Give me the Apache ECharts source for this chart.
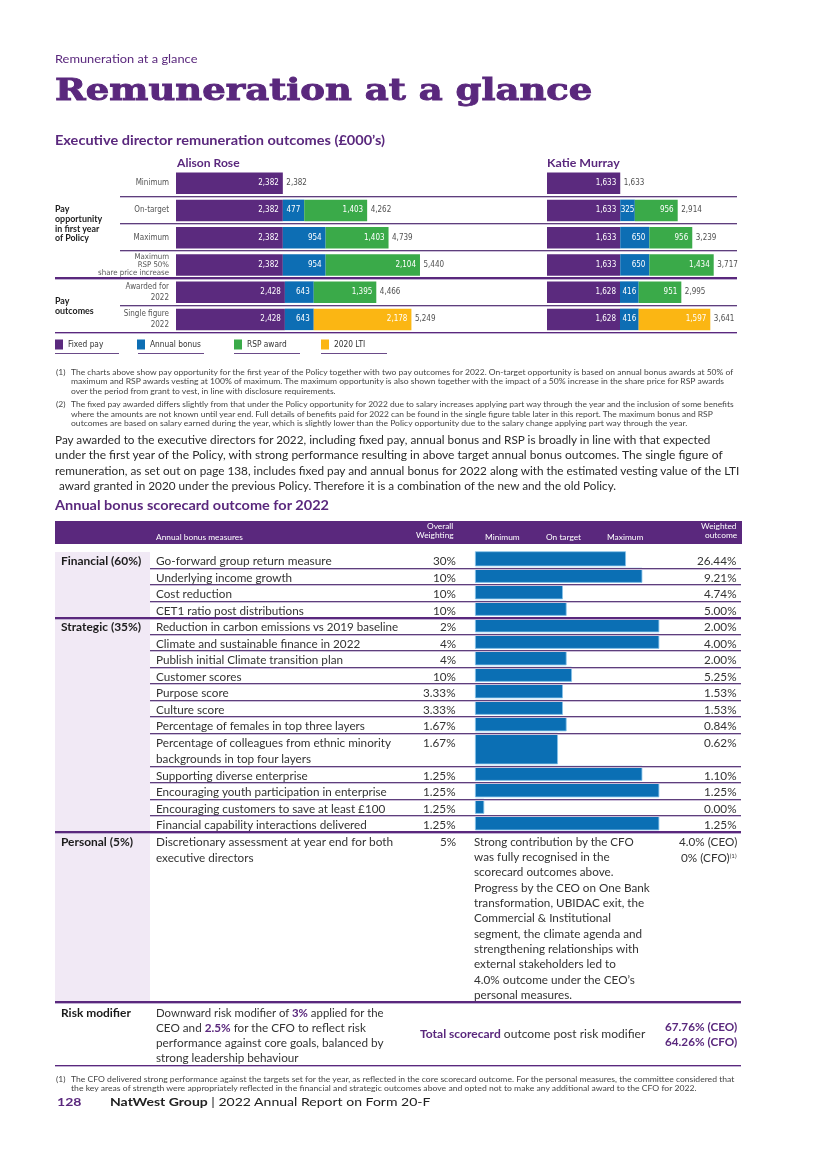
<!DOCTYPE html>
<html><head><meta charset="utf-8">
<title>Remuneration at a glance</title>
<script src="https://cdn.jsdelivr.net/npm/echarts@6.0.0/dist/echarts.min.js"></script>
<style>
html,body{margin:0;padding:0;background:#fff;}
#page{position:relative;width:825px;height:1168px;overflow:hidden;font-family:Lato,'Noto Sans',sans-serif;color:#333;}
#chart{position:absolute;left:0;top:0;width:825px;height:1168px;z-index:1;}
.t{position:absolute;left:0;white-space:nowrap;transform-origin:0 50%;z-index:3;}
.ln{position:absolute;z-index:2;}
.bg{position:absolute;z-index:0;}
</style></head>
<body><div id="page"><div id="chart"></div></div>
<script>
// ---------------- DATA ----------------
const directorCategories = ['Minimum','On-target','Maximum','Maximum\nRSP 50%\nshare price increase','Awarded for\n2022','Single figure\n2022'];
const componentNames = ['Fixed pay','Annual bonus','RSP award','2020 LTI'];
const alisonFixedPay    = [2382,2382,2382,2382,2428,2428];
const alisonAnnualBonus = [0,477,954,954,643,643];
const alisonRspAward    = [0,1403,1403,2104,1395,0];
const alisonLti2020     = [0,0,0,0,0,2178];
const katieFixedPay     = [1633,1633,1633,1633,1628,1628];
const katieAnnualBonus  = [0,325,650,650,416,416];
const katieRspAward     = [0,956,956,1434,951,0];
const katieLti2020      = [0,0,0,0,0,1597];

const scorecardMeasures = [
 'Go-forward group return measure','Underlying income growth','Cost reduction','CET1 ratio post distributions',
 'Reduction in carbon emissions vs 2019 baseline','Climate and sustainable finance in 2022','Publish initial Climate transition plan',
 'Customer scores','Purpose score','Culture score','Percentage of females in top three layers',
 'Percentage of colleagues from ethnic minority\nbackgrounds in top four layers','Supporting diverse enterprise',
 'Encouraging youth participation in enterprise','Encouraging customers to save at least £100','Financial capability interactions delivered'];
const scorecardWeightings = ['30%','10%','10%','10%','2%','4%','4%','10%','3.33%','3.33%','1.67%','1.67%','1.25%','1.25%','1.25%','1.25%'];
// bar length, % of the minimum-to-maximum performance scale
const scorecardPerformance = [81.9,90.8,47.7,49.7,100,100,49.7,52.6,47.7,47.7,49.7,45.0,90.8,100,5.0,100];
const scorecardOutcomes = ['26.44%','9.21%','4.74%','5.00%','2.00%','4.00%','2.00%','5.25%','1.53%','1.53%','0.84%','0.62%','1.10%','1.25%','0.00%','1.25%'];
const scorecardGroups = [['Financial (60%)',4],['Strategic (35%)',12]];
const scaleLabels = ['Minimum','On target','Maximum'];

// ---------------- LAYOUT HELPERS ----------------
const page = document.getElementById('page');
const P = '#5a287d';
const FONT = "Lato,'Noto Sans',sans-serif";
const NFONT = "'DejaVu Sans Condensed','DejaVu Sans',sans-serif";
function T(html, x, y, o){
  o = o || {};
  const d = document.createElement('div');
  d.className = 't';
  d.innerHTML = html;
  const fs = o.fs || 11.5, lh = o.lh || fs*1.3;
  d.style.fontSize = fs+'px';
  d.style.lineHeight = lh+'px';
  d.style.top = (y - lh/2)+'px';
  if (o.bold) d.style.fontWeight = '700';
  d.style.color = o.color || '#333';
  if (o.ff) d.style.fontFamily = o.ff;
  if (o.stroke) d.style.webkitTextStroke = o.stroke;
  d.dataset.x = x; d.dataset.a = o.a || 'left';
  if (o.w) d.dataset.w = o.w;
  if (o.g) d.dataset.g = o.g;
  page.appendChild(d);
  return d;
}
function HL(x1, x2, y, h, color){
  const d = document.createElement('div');
  d.className = 'ln';
  d.style.left = x1+'px'; d.style.width = (x2-x1)+'px';
  d.style.top = y+'px'; d.style.height = h+'px'; d.style.background = color;
  page.appendChild(d);
}
function thinLine(x1,x2,y){ HL(x1,x2,y-1,1,'#5e3f7c'); HL(x1,x2,y,1,'#cbbdd8'); }
function thickLine(x1,x2,y){ HL(x1,x2,y-1.5,1.8,'#5a287d'); HL(x1,x2,y+0.3,1,'#c0afd2'); }
function BG(x1,x2,y1,y2,color){
  const d = document.createElement('div');
  d.className = 'bg';
  d.style.left=x1+'px'; d.style.width=(x2-x1)+'px'; d.style.top=y1+'px'; d.style.height=(y2-y1)+'px'; d.style.background=color;
  page.appendChild(d);
}

// ---------------- PAGE TEXT ----------------
T('Remuneration at a glance',55,60,{fs:10.5,color:P,w:143});
T('Remuneration at a glance',55,91,{fs:29,bold:1,color:P,ff:"'DejaVu Serif',serif",w:537,stroke:'0.9px '+P});
T('Executive director remuneration outcomes (£000’s)',55,140,{fs:13,bold:1,color:P,w:330});
T('Alison Rose',176.5,162.7,{fs:11,bold:1,color:P,w:62.7});
T('Katie Murray',547,162.7,{fs:11,bold:1,color:P,w:73.3});
[['Pay',210],['opportunity',219.7],['in first year',229.3],['of Policy',239],['Pay',301.7],['outcomes',312]].forEach(([s,y])=>T(s,55,y,{fs:8.5,bold:1,color:'#1b1b1b',g:'grp',w: s==='opportunity'?47:0}));

// separators of the director chart
const DIR_TOP = 169.5, DIR_H = 163.5, BAND = DIR_H/directorCategories.length;
for (let k=1;k<=directorCategories.length;k++){
  const y = DIR_TOP + BAND*k;
  if (k===4 || k===6) thickLine(55,737,y); else thinLine(120,737,y);
}
// legend underlines
[[55,119],[137.5,203.5],[234,300],[321,387]].forEach(([a,b])=>HL(a,b,353,1.3,'#6a4a88'));

// footnotes
const fnY = [372.7,382,391.7,405,414.7,424.3];
T('(1)',56,fnY[0],{fs:7.6,color:'#444',g:'fn'});
T('The charts above show pay opportunity for the first year of the Policy together with two pay outcomes for 2022. On-target opportunity is based on annual bonus awards at 50% of',71,fnY[0],{fs:7.6,color:'#444',g:'fn',w:662.5});
T('maximum and RSP awards vesting at 100% of maximum. The maximum opportunity is also shown together with the impact of a 50% increase in the share price for RSP awards',71,fnY[1],{fs:7.6,color:'#444',g:'fn',w:652.5});
T('over the period from grant to vest, in line with disclosure requirements.',71,fnY[2],{fs:7.6,color:'#444',g:'fn'});
T('(2)',56,fnY[3],{fs:7.6,color:'#444',g:'fn'});
T('The fixed pay awarded differs slightly from that under the Policy opportunity for 2022 due to salary increases applying part way through the year and the inclusion of some benefits',71,fnY[3],{fs:7.6,color:'#444',g:'fn',w:663});
T('where the amounts are not known until year end. Full details of benefits paid for 2022 can be found in the single figure table later in this report. The maximum bonus and RSP',71,fnY[4],{fs:7.6,color:'#444',g:'fn',w:642});
T('outcomes are based on salary earned during the year, which is slightly lower than the Policy opportunity due to the salary change applying part way through the year.',71,fnY[5],{fs:7.6,color:'#444',g:'fn',w:616});

// paragraph
T('Pay awarded to the executive directors for 2022, including fixed pay, annual bonus and RSP is broadly in line with that expected',55,439.5,{fs:12,color:'#2b2b2b',g:'para',w:655});
T('under the first year of the Policy, with strong performance resulting in above target annual bonus outcomes. The single figure of',55,455,{fs:12,color:'#2b2b2b',g:'para',w:668});
T('remuneration, as set out on page 138, includes fixed pay and annual bonus for 2022 along with the estimated vesting value of the LTI',55,470.5,{fs:12,color:'#2b2b2b',g:'para',w:684});
T('award granted in 2020 under the previous Policy. Therefore it is a combination of the new and the old Policy.',58.5,486,{fs:12,color:'#2b2b2b',g:'para',w:557.5});
T('Annual bonus scorecard outcome for 2022',55,505,{fs:13,bold:1,color:P,w:273.5});

// table header
BG(55,742,520.7,544.5,P);
T('Annual bonus measures',156,537.5,{fs:7.5,color:'#fff',g:'hdr',w:86.7});
T('Overall',454,527.3,{fs:7.5,color:'#fff',g:'hdr',a:'right'});
T('Weighting',454,535.5,{fs:7.5,color:'#fff',g:'hdr',a:'right'});
const SC_LEFT = 475, SC_W = 184.3, SC_TOP = 552.3, SC_PITCH = 16.5;
const scaleLabelPos = [14.6,48.3,81.4];
scaleLabels.forEach((s,i)=>T(s,SC_LEFT+SC_W*scaleLabelPos[i]/100,537.5,{fs:7.5,color:'#fff',g:'hdr',a:'center'}));
T('Weighted',737,527.3,{fs:7.5,color:'#fff',g:'hdr',a:'right'});
T('outcome',737,536,{fs:7.5,color:'#fff',g:'hdr',a:'right'});

// table body
BG(55,150,552.3,1002.7,'#f1e9f5');
const rowInfo = [];
const measureWidths = {0:176,4:242,11:235,13:230.7};
let slot = 0;
scorecardMeasures.forEach((m,i)=>{
  const lines = m.split('\n');
  const yTop = SC_TOP + slot*SC_PITCH;
  lines.forEach((l,j)=>T(l,156,yTop+(j*SC_PITCH)+9.2,{fs:11.5,color:'#333',g:'tbl',w:(j===0 && measureWidths[i]) ? measureWidths[i] : 0}));
  T(scorecardWeightings[i],456,yTop+9.2,{fs:11.5,color:'#333',g:'tbl',a:'right'});
  T(scorecardOutcomes[i],737,yTop+9.2,{fs:11.5,color:'#333',g:'tbl',a:'right'});
  rowInfo.push({slot:slot,n:lines.length});
  slot += lines.length;
});
let rowIdx = 0;
scorecardGroups.forEach(([label,count])=>{
  T(label,60.5,SC_TOP+rowInfo[rowIdx].slot*SC_PITCH+9.2,{fs:11.5,bold:1,color:'#1b1b1b',g:'cat',w: label.startsWith('Fin')?80:0});
  rowIdx += count;
});
let acc = 0; const groupEnds = []; scorecardGroups.forEach(([l,c])=>{acc+=c; groupEnds.push(acc);});
rowInfo.forEach((r,i)=>{
  const y = SC_TOP + (r.slot+r.n)*SC_PITCH;
  if (groupEnds.includes(i+1)) thickLine(55,741,y); else thinLine(150,741,y);
});
// personal row
const PY = SC_TOP + slot*SC_PITCH;
T('Personal (5%)',60.5,PY+9.5,{fs:11.5,bold:1,color:'#1b1b1b',g:'cat'});
T('Discretionary assessment at year end for both',156,PY+9.5,{fs:11.5,color:'#333',g:'tbl',w:236.7});
T('executive directors',156,PY+25.5,{fs:11.5,color:'#333',g:'tbl'});
T('5%',456,PY+9.5,{fs:11.5,color:'#333',g:'tbl',a:'right'});
['Strong contribution by the CFO','was fully recognised in the','scorecard outcomes above.','Progress by the CEO on One Bank','transformation, UBIDAC exit, the','Commercial &amp; Institutional','segment, the climate agenda and','strengthening relationships with','external stakeholders led to','4.0% outcome under the CEO’s','personal measures.']
 .forEach((s,j)=>T(s,474,PY+9.5+j*15.3,{fs:11.5,color:'#333',g:'tbl',w:j===0?160:0}));
T('4.0% (CEO)',737,PY+9.5,{fs:11.5,color:'#333',g:'tbl',a:'right'});
T('0% (CFO)<span style="font-size:6px;position:relative;top:-4px">(1)</span>',737,PY+25.5,{fs:11.5,color:'#333',g:'tbl',a:'right'});
thickLine(55,741,1002.7);
// risk modifier row
const B = (s)=>'<b style="color:'+P+'">'+s+'</b>';
T('Risk modifier',60.5,1013.3,{fs:11.5,bold:1,color:'#1b1b1b',g:'cat'});
T('Downward risk modifier of '+B('3%')+' applied for the',156,1013.3,{fs:11.5,color:'#333',g:'tbl',w:228});
T('CEO and '+B('2.5%')+' for the CFO to reflect risk',156,1028.3,{fs:11.5,color:'#333',g:'tbl'});
T('performance against core goals, balanced by',156,1043.3,{fs:11.5,color:'#333',g:'tbl',w:227.3});
T('strong leadership behaviour',156,1058.3,{fs:11.5,color:'#333',g:'tbl'});
T(B('Total scorecard')+' outcome post risk modifier',419.5,1034.3,{fs:11.5,color:'#333',g:'tbl',w:225});
T('67.76% (CEO)',737,1027.3,{fs:11.5,bold:1,color:P,g:'tbl',a:'right'});
T('64.26% (CFO)',737,1042.3,{fs:11.5,bold:1,color:P,g:'tbl',a:'right'});
thickLine(55,741,1066);
// bottom footnote + footer
T('(1)',56,1079.5,{fs:7.6,color:'#444',g:'fn'});
T('The CFO delivered strong performance against the targets set for the year, as reflected in the core scorecard outcome. For the personal measures, the committee considered that',71,1079.5,{fs:7.6,color:'#444',g:'fn',w:663});
T('the key areas of strength were appropriately reflected in the financial and strategic outcomes above and opted not to make any additional award to the CFO for 2022.',71,1088.7,{fs:7.6,color:'#444',g:'fn',w:626});
T('128',57,1102,{fs:11,bold:1,color:P,g:'foot'});
T('<b style="color:#222">NatWest Group</b> | 2022 Annual Report on Form 20-F',110,1102,{fs:11,color:'#222',g:'foot',w:320});

// ---------------- CHART ----------------
const chart = echarts.init(document.getElementById('chart'));
const compColors = ['#5b2a7e','#0d6eb4','#3aaa49','#fbb613'];
const fmtNum = v => v.toLocaleString('en-GB');
const grid=[], xAxis=[], yAxis=[], series=[], legend=[];
const DIR_MAX = 6000, DIR_W = 6000*0.04485;
const NARROW = DIR_MAX*20/DIR_W;   // segments narrower than ~20px get a centred label
const directors = [
  [176,[alisonFixedPay,alisonAnnualBonus,alisonRspAward,alisonLti2020],true],
  [547,[katieFixedPay,katieAnnualBonus,katieRspAward,katieLti2020],false]];
directors.forEach(([left,comps,showLabels],gi)=>{
  grid.push({left:left, top:DIR_TOP, width:DIR_W, height:DIR_H});
  xAxis.push({type:'value', gridIndex:gi, min:0, max:DIR_MAX, show:false});
  yAxis.push({type:'category', gridIndex:gi, inverse:true, data:directorCategories,
    axisLine:{show:false}, axisTick:{show:false}, splitLine:{show:false},
    axisLabel:{show:showLabels, margin:7, color:'#555', fontFamily:NFONT, fontSize:8,
      formatter:v=>{const ls=v.split('\n');const st=ls.length>2?'t':'n';return ls.map(l=>'{'+st+'|'+l+'}').join('\n');},
      rich:{t:{fontSize:7.8,lineHeight:7.9,color:'#555',fontFamily:NFONT,align:'right'},n:{fontSize:8,lineHeight:11.4,color:'#555',fontFamily:NFONT,align:'right'}}}});
  comps.forEach((d,ci)=>series.push({type:'bar', name:componentNames[ci], stack:'dir'+gi, xAxisIndex:gi, yAxisIndex:gi,
    barWidth:21.5, itemStyle:{color:compColors[ci]},
    data:d.map(v=>(v>0 && v<NARROW) ? {value:v, label:{position:'inside'}} : v),
    label:{show:true, position:'insideRight', distance:4, color:'#fff', fontFamily:NFONT, fontSize:8,
      formatter:p=>p.value?fmtNum(p.value):''}}));
  const totals = comps[0].map((_,i)=>comps.reduce((s,c)=>s+c[i],0));
  series.push({type:'scatter', name:'Total', xAxisIndex:gi, yAxisIndex:gi, data:totals.map((t,i)=>[t,i]),
    symbolSize:1, itemStyle:{color:'rgba(0,0,0,0)'}, silent:true,
    label:{show:true, position:'right', distance:3, color:'#222', fontFamily:NFONT, fontSize:8, formatter:p=>fmtNum(p.value[0])}});
});
const legendX = [55,137,234,321];
componentNames.forEach((n,i)=>legend.push({data:[n], left:legendX[i], top:339.5, padding:0, itemWidth:8, itemHeight:10, icon:'rect',
  selectedMode:false, textStyle:{fontSize:8.3, color:'#333', fontFamily:NFONT}}));
scorecardMeasures.forEach((m,i)=>{
  const gi = grid.length, r = rowInfo[i];
  grid.push({left:SC_LEFT, top:SC_TOP + r.slot*SC_PITCH - 1, width:SC_W, height:r.n*SC_PITCH - 1.5});
  xAxis.push({type:'value', gridIndex:gi, min:0, max:100, show:false});
  yAxis.push({type:'category', gridIndex:gi, data:[m], show:false});
  series.push({type:'bar', name:'Performance', xAxisIndex:gi, yAxisIndex:gi, data:[scorecardPerformance[i]],
    barCategoryGap:'0%', itemStyle:{color:'#0b6fb4', borderColor:'#86c3ea', borderWidth:0.8}, silent:true});
});
chart.setOption({animation:false, grid, xAxis, yAxis, series, legend});

// ---------------- FIT TEXT WIDTHS ----------------
function fitAll(){
  const els = [...document.querySelectorAll('.t')];
  const gs = {};
  els.forEach(e=>{ const w=+e.dataset.w; if(w){ e._s = w/e.offsetWidth; const g=e.dataset.g; if(g)(gs[g]=gs[g]||[]).push(e._s);} });
  const avg = {}; for (const g in gs) avg[g] = gs[g].reduce((a,b)=>a+b,0)/gs[g].length;
  els.forEach(e=>{
    const s = e._s || avg[e.dataset.g] || 1;
    const nw = e.offsetWidth*s, x = +e.dataset.x, a = e.dataset.a;
    e.style.left = (a==='right' ? x-nw : a==='center' ? x-nw/2 : x)+'px';
    e.style.transform = 'scaleX('+s+')';
  });
}
if (document.fonts && document.fonts.ready) document.fonts.ready.then(fitAll); else fitAll();
fitAll();
</script></body></html>
